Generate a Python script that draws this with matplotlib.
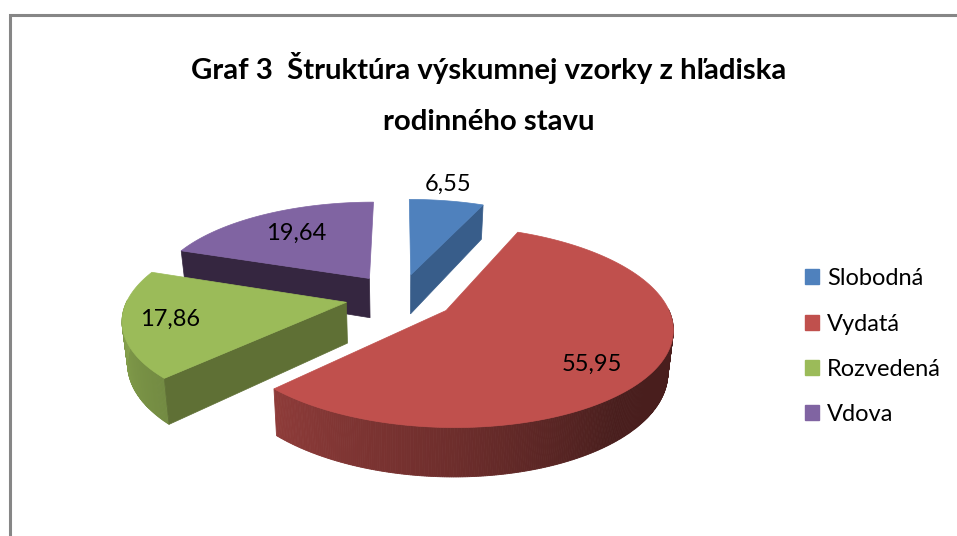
import numpy as np
from matplotlib import pyplot as plt
from matplotlib.patches import Patch, Polygon

plt.rcParams['font.family'] = ['Lato', 'DejaVu Sans']

title = "Graf 3  Štruktúra výskumnej vzorky z hľadiska\nrodinného stavu"
categories = ['Slobodná', 'Vydatá', 'Rozvedená', 'Vdova']
values = [6.55, 55.95, 17.86, 19.64]

colors = ['#4F81BD', '#C0504D', '#9BBB59', '#8064A2']
wall_colors = ['#385D8A', '#8C3A38', '#5F7035', '#352640']

# look of the fake 3d pie, all in pixels of the picture
cx, cy = 400, 297
scale_x, scale_y = 218, 93.8
persp = 0.158
depth = 40.5
shrink = 0.98
explode = 0.25

# how far along the slice the label sits, and a small nudge
label_r = [1.29, 0.75, 0.77, 0.68]
label_dx = [-7, -6, -5, 1]
label_dy = [2, 9, 0, 0]


def project(x, y):
    w = 1 + persp * y
    return cx + scale_x * x / w, cy - scale_y * y / w


def project_low(x, y):
    w = 1 + persp * y
    return cx + shrink * scale_x * x / w, cy - scale_y * y / w + depth / w


def arc_shade(angle):
    return np.interp(angle, [90, 140, 180, 225, 270], [0.38, 0.38, 0.57, 0.74, 0.87])


def darker(color, f):
    rgb = np.array(plt.matplotlib.colors.to_rgb(color))
    return tuple(rgb * f)


fig = plt.figure(figsize=(9.57, 5.36), dpi=100)
ax = fig.add_axes([0, 0, 1, 1])
ax.set_xlim(0, 957)
ax.set_ylim(536, 0)
ax.axis('off')

# chart frame, only the top and left show in the picture
ax.plot([10, 10, 957], [536, 15, 15], color='#868686', lw=2.2, solid_joinstyle='miter')

edges = np.concatenate([[0], np.cumsum(values)]) * 360 / np.sum(values)
mids = (edges[:-1] + edges[1:]) / 2

for i in [3, 0, 2, 1]:
    a0, a1 = edges[i], edges[i + 1]
    ox = explode * np.sin(np.radians(mids[i]))
    oy = explode * np.cos(np.radians(mids[i]))

    ang = np.linspace(a0, a1, int(a1 - a0) * 2 + 2)
    xs = ox + np.sin(np.radians(ang))
    ys = oy + np.cos(np.radians(ang))

    # outer wall, cut in thin strips for the shading
    for j in range(len(ang) - 1):
        if 90 - 1 < ang[j] < 270 + 1:
            tx, ty = project(xs[j:j + 2], ys[j:j + 2])
            bx, by = project_low(xs[j:j + 2], ys[j:j + 2])
            c = darker(colors[i], arc_shade((ang[j] + ang[j + 1]) / 2))
            ax.add_patch(Polygon(np.column_stack([np.r_[tx, bx[::-1]], np.r_[ty, by[::-1]]]),
                                 fc=c, ec=c, lw=0.6))

    # flat walls that face the viewer
    for a, sign in [(a0, -1), (a1, 1)]:
        if sign * np.sin(np.radians(a)) > 1e-6:
            ex = np.array([ox, ox + np.sin(np.radians(a))])
            ey = np.array([oy, oy + np.cos(np.radians(a))])
            tx, ty = project(ex, ey)
            bx, by = project_low(ex, ey)
            ax.add_patch(Polygon(np.column_stack([np.r_[tx, bx[::-1]], np.r_[ty, by[::-1]]]),
                                 fc=wall_colors[i], ec=wall_colors[i], lw=0.5))

    # top of the slice
    px, py = project(np.r_[ox, xs], np.r_[oy, ys])
    ax.add_patch(Polygon(np.column_stack([px, py]), fc=colors[i], ec=colors[i], lw=0.5))

for i in range(len(values)):
    ox = (explode + label_r[i]) * np.sin(np.radians(mids[i]))
    oy = (explode + label_r[i]) * np.cos(np.radians(mids[i]))
    lx, ly = project(ox, oy)
    ax.text(lx + label_dx[i], ly + label_dy[i], f'{values[i]:.2f}'.replace('.', ','),
            ha='center', va='center', fontsize=17, color='black', zorder=5)

ax.text(489, 93.5, title, ha='center', va='center', fontsize=21.2, fontweight='bold',
        linespacing=2.15, color='black')

handles = [Patch(fc=c, ec=c) for c in colors]
leg = ax.legend(handles, categories, loc='center left', bbox_to_anchor=(0.841, 0.353),
                frameon=False, fontsize=17, handlelength=0.6, handleheight=0.6,
                handletextpad=0.34, labelspacing=1.03, borderpad=0, borderaxespad=0)

fig.savefig('out.png', dpi=100)
